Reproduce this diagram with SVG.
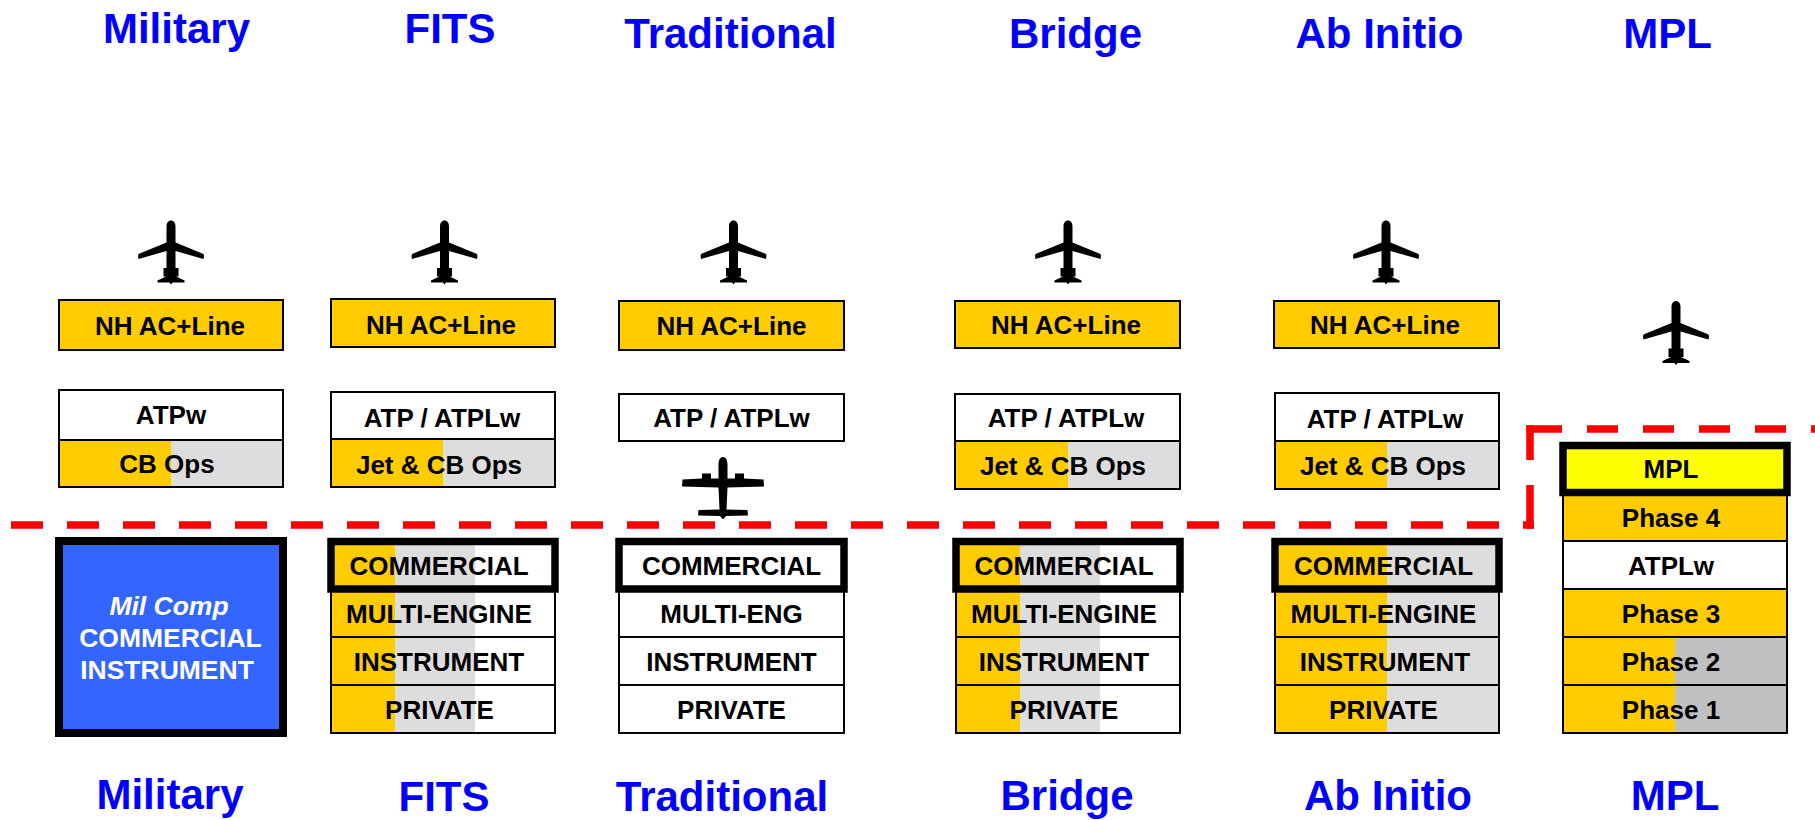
<svg xmlns="http://www.w3.org/2000/svg" xmlns:xlink="http://www.w3.org/1999/xlink" width="1815" height="820" viewBox="0 0 1815 820">
<style>
.lbl{font-family:"Liberation Sans",Arial,sans-serif;font-weight:bold;font-size:42px;fill:#0000FF;text-anchor:middle}
.t{font-family:"Liberation Sans",Arial,sans-serif;font-weight:bold;font-size:26px;fill:#000;text-anchor:middle}
.tw{font-family:"Liberation Sans",Arial,sans-serif;font-weight:bold;font-size:26.5px;fill:#FFF;text-anchor:middle}
.box{fill:none;stroke:#000;stroke-width:2}
.thick{fill:none;stroke:#000;stroke-width:7.5}
.y{fill:#FFCC00}.g{fill:#DDDDDD}.w{fill:#FFFFFF}.g2{fill:#C0C0C0}
.dash{fill:none;stroke:#FF0000;stroke-width:7.5;stroke-linecap:butt}
</style>
<defs>
<path id="jet" d="M0 0C2.8 0 4.5 2.5 4.5 6L4.5 22L32.5 33.5L33 35.5L32.5 38.5L4.5 30.5L4.5 47.5L7.5 47.5L7.5 56L5 56L13.5 60L13.5 62L1.5 62L0 64L-1.5 62L-13.5 62L-13.5 60L-5 56L-7.5 56L-7.5 47.5L-4.5 47.5L-4.5 30.5L-32.5 38.5L-33 35.5L-32.5 33.5L-4.5 22L-4.5 6C-4.5 2.5 -2.8 0 0 0Z" fill="#000"/>
<path id="prop" d="M0 0C3 0 4.5 3 4.5 8L4.5 21.5L12 21.5L12 16.5L21 16.5L21 21.5L40.5 22.5L41 29.5L4.5 30.5L3.5 52.5L24.5 53L25 58.5L3 59L0 62.5L-3 59L-25 58.5L-24.5 53L-3.5 52.5L-4.5 30.5L-41 29.5L-40.5 22.5L-21 21.5L-21 16.5L-12 16.5L-12 21.5L-4.5 21.5L-4.5 8C-4.5 3 -3 0 0 0Z" fill="#000"/>
</defs>
<rect width="1815" height="820" fill="#FFFFFF"/>

<g id="top-labels">
<text class="lbl" x="176.5" y="43">Military</text>
<text class="lbl" x="450" y="43">FITS</text>
<text class="lbl" x="730.5" y="48">Traditional</text>
<text class="lbl" x="1075.5" y="48">Bridge</text>
<text class="lbl" x="1379.5" y="48">Ab Initio</text>
<text class="lbl" x="1667.5" y="48">MPL</text>
</g>

<g id="bottom-labels">
<text class="lbl" x="170" y="809">Military</text>
<text class="lbl" x="444" y="811">FITS</text>
<text class="lbl" x="722" y="811">Traditional</text>
<text class="lbl" x="1067" y="810">Bridge</text>
<text class="lbl" x="1388" y="810">Ab Initio</text>
<text class="lbl" x="1675" y="810">MPL</text>
</g>

<g id="icons">
<use xlink:href="#jet" href="#jet" x="171" y="220.5"/>
<use xlink:href="#jet" href="#jet" x="444.5" y="220.5"/>
<use xlink:href="#jet" href="#jet" x="733.5" y="220.5"/>
<use xlink:href="#jet" href="#jet" x="1068" y="220.5"/>
<use xlink:href="#jet" href="#jet" x="1386" y="220.5"/>
<use xlink:href="#jet" href="#jet" x="1676" y="301"/>
<use xlink:href="#prop" href="#prop" x="723" y="457"/>
</g>

<g id="divider">
<line class="dash" x1="11" y1="525" x2="1533.75" y2="525" stroke-dasharray="32 24"/>
<line class="dash" x1="1530" y1="425.25" x2="1530" y2="528.75" stroke-dasharray="34.75 25 44"/>
<line class="dash" x1="1526.25" y1="429" x2="1815" y2="429" stroke-dasharray="35.75 25 31 25 31 25 31 25 31 25 31 25"/>
</g>

<!-- Military -->
<g id="military-nh">
<rect class="y" x="59" y="300" width="224" height="50"/>
<rect class="box" x="59" y="300" width="224" height="50"/>
<text class="t" x="170" y="335">NH AC+Line</text>
</g>
<g id="military-atp">
<rect class="w" x="59" y="390" width="224" height="50"/>
<rect class="y" x="59" y="440" width="112" height="47"/>
<rect class="g" x="171" y="440" width="112" height="47"/>
<rect class="box" x="59" y="390" width="224" height="97"/>
<line x1="59" y1="440" x2="283" y2="440" stroke="#000" stroke-width="2"/>
<text class="t" x="171" y="424">ATPw</text>
<text class="t" x="167" y="473">CB Ops</text>
</g>
<g id="military-stack">
<rect x="59" y="541" width="224" height="192" fill="#3366FF" stroke="#000" stroke-width="8"/>
<text class="tw" x="169" y="615" font-style="italic">Mil Comp</text>
<text class="tw" x="170.5" y="647">COMMERCIAL</text>
<text class="tw" x="167" y="679">INSTRUMENT</text>
</g>

<!-- FITS -->
<g id="fits-nh">
<rect class="y" x="331" y="299" width="224" height="48"/>
<rect class="box" x="331" y="299" width="224" height="48"/>
<text class="t" x="441" y="333.5">NH AC+Line</text>
</g>
<g id="fits-atp">
<rect class="w" x="331" y="392" width="224" height="47"/>
<rect class="y" x="331" y="439" width="112" height="48"/>
<rect class="g" x="443" y="439" width="112" height="48"/>
<rect class="box" x="331" y="392" width="224" height="95"/>
<line x1="331" y1="439" x2="555" y2="439" stroke="#000" stroke-width="2"/>
<text class="t" x="442" y="427">ATP / ATPLw</text>
<text class="t" x="439" y="474">Jet &amp; CB Ops</text>
</g>
<g id="fits-stack">
<rect class="y" x="331" y="541" width="64" height="192"/>
<rect class="g" x="395" y="541" width="80" height="192"/>
<rect class="w" x="475" y="541" width="80" height="192"/>
<rect class="box" x="331" y="589" width="224" height="144"/>
<line x1="331" y1="637" x2="555" y2="637" stroke="#000" stroke-width="2"/>
<line x1="331" y1="685" x2="555" y2="685" stroke="#000" stroke-width="2"/>
<rect class="thick" x="331" y="541.5" width="224" height="47.5"/>
<text class="t" x="439" y="574.5">COMMERCIAL</text>
<text class="t" x="439" y="623">MULTI-ENGINE</text>
<text class="t" x="439" y="670.5">INSTRUMENT</text>
<text class="t" x="439.5" y="718.5">PRIVATE</text>
</g>

<!-- Traditional -->
<g id="traditional-nh">
<rect class="y" x="619" y="301" width="225" height="49"/>
<rect class="box" x="619" y="301" width="225" height="49"/>
<text class="t" x="731.5" y="335">NH AC+Line</text>
</g>
<g id="traditional-atp">
<rect class="w" x="619" y="394" width="225" height="47"/>
<rect class="box" x="619" y="394" width="225" height="47"/>
<text class="t" x="731.5" y="427">ATP / ATPLw</text>
</g>
<g id="traditional-stack">
<rect class="w" x="619" y="541" width="225" height="192"/>
<rect class="box" x="619" y="589" width="225" height="144"/>
<line x1="619" y1="637" x2="844" y2="637" stroke="#000" stroke-width="2"/>
<line x1="619" y1="685" x2="844" y2="685" stroke="#000" stroke-width="2"/>
<rect class="thick" x="619" y="541.5" width="225" height="47.5"/>
<text class="t" x="731.5" y="574.5">COMMERCIAL</text>
<text class="t" x="731.5" y="623">MULTI-ENG</text>
<text class="t" x="731.5" y="670.5">INSTRUMENT</text>
<text class="t" x="731.5" y="718.5">PRIVATE</text>
</g>

<!-- Bridge -->
<g id="bridge-nh">
<rect class="y" x="955" y="301" width="225" height="47"/>
<rect class="box" x="955" y="301" width="225" height="47"/>
<text class="t" x="1066" y="334">NH AC+Line</text>
</g>
<g id="bridge-atp">
<rect class="w" x="955" y="394" width="225" height="47"/>
<rect class="y" x="955" y="441" width="113" height="48"/>
<rect class="g" x="1068" y="441" width="112" height="48"/>
<rect class="box" x="955" y="394" width="225" height="95"/>
<line x1="955" y1="441" x2="1180" y2="441" stroke="#000" stroke-width="2"/>
<text class="t" x="1066" y="427">ATP / ATPLw</text>
<text class="t" x="1063" y="474.5">Jet &amp; CB Ops</text>
</g>
<g id="bridge-stack">
<rect class="y" x="956" y="541" width="64" height="192"/>
<rect class="g" x="1020" y="541" width="80" height="192"/>
<rect class="w" x="1100" y="541" width="80" height="192"/>
<rect class="box" x="956" y="589" width="224" height="144"/>
<line x1="956" y1="637" x2="1180" y2="637" stroke="#000" stroke-width="2"/>
<line x1="956" y1="685" x2="1180" y2="685" stroke="#000" stroke-width="2"/>
<rect class="thick" x="956" y="541.5" width="224" height="47.5"/>
<text class="t" x="1064" y="574.5">COMMERCIAL</text>
<text class="t" x="1064" y="623">MULTI-ENGINE</text>
<text class="t" x="1064" y="670.5">INSTRUMENT</text>
<text class="t" x="1064" y="718.5">PRIVATE</text>
</g>

<!-- Ab Initio -->
<g id="abinitio-nh">
<rect class="y" x="1274" y="301" width="225" height="47"/>
<rect class="box" x="1274" y="301" width="225" height="47"/>
<text class="t" x="1385" y="334">NH AC+Line</text>
</g>
<g id="abinitio-atp">
<rect class="w" x="1275" y="393" width="224" height="48"/>
<rect class="y" x="1275" y="441" width="112" height="48"/>
<rect class="g" x="1387" y="441" width="112" height="48"/>
<rect class="box" x="1275" y="393" width="224" height="96"/>
<line x1="1275" y1="441" x2="1499" y2="441" stroke="#000" stroke-width="2"/>
<text class="t" x="1385" y="427.5">ATP / ATPLw</text>
<text class="t" x="1383" y="474.5">Jet &amp; CB Ops</text>
</g>
<g id="abinitio-stack">
<rect class="y" x="1275" y="541" width="112" height="192"/>
<rect class="g" x="1387" y="541" width="112" height="192"/>
<rect class="box" x="1275" y="589" width="224" height="144"/>
<line x1="1275" y1="637" x2="1499" y2="637" stroke="#000" stroke-width="2"/>
<line x1="1275" y1="685" x2="1499" y2="685" stroke="#000" stroke-width="2"/>
<rect class="thick" x="1275" y="541.5" width="224" height="47.5"/>
<text class="t" x="1383.5" y="574.5">COMMERCIAL</text>
<text class="t" x="1383.5" y="623">MULTI-ENGINE</text>
<text class="t" x="1385" y="670.5">INSTRUMENT</text>
<text class="t" x="1383.5" y="718.5">PRIVATE</text>
</g>

<!-- MPL -->
<g id="mpl-stack">
<rect x="1563" y="445.5" width="224" height="47" fill="#FFFF00"/>
<rect class="y" x="1563" y="493" width="224" height="48"/>
<rect class="w" x="1563" y="541" width="224" height="48"/>
<rect class="y" x="1563" y="589" width="224" height="48"/>
<rect class="y" x="1563" y="637" width="112" height="96"/>
<rect class="g2" x="1675" y="637" width="112" height="96"/>
<rect class="box" x="1563" y="493" width="224" height="240"/>
<line x1="1563" y1="541" x2="1787" y2="541" stroke="#000" stroke-width="2"/>
<line x1="1563" y1="589" x2="1787" y2="589" stroke="#000" stroke-width="2"/>
<line x1="1563" y1="637" x2="1787" y2="637" stroke="#000" stroke-width="2"/>
<line x1="1563" y1="685" x2="1787" y2="685" stroke="#000" stroke-width="2"/>
<rect class="thick" x="1563" y="445.5" width="224" height="47"/>
<text class="t" x="1671" y="478">MPL</text>
<text class="t" x="1671" y="527">Phase 4</text>
<text class="t" x="1671" y="575">ATPLw</text>
<text class="t" x="1671" y="623">Phase 3</text>
<text class="t" x="1671" y="671">Phase 2</text>
<text class="t" x="1671" y="718.5">Phase 1</text>
</g>
</svg>
